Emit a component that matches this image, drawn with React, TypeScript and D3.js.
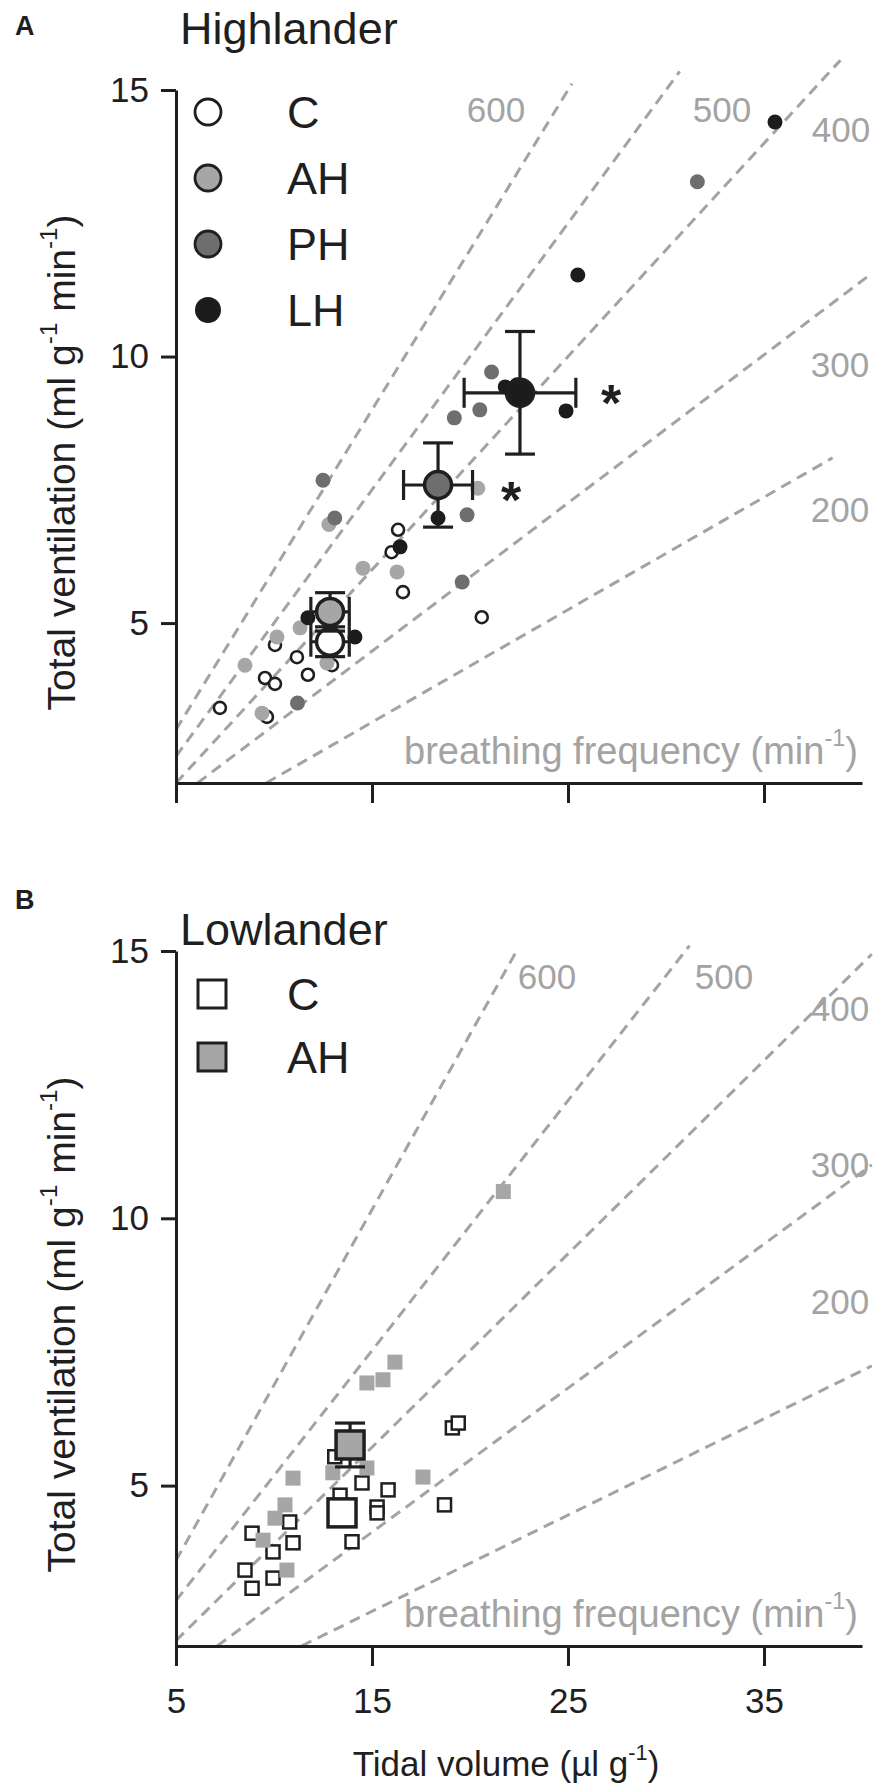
import React, { useEffect, useRef } from "react";
import * as d3 from "d3";

// ---- data: [tidal volume (ul/g), total ventilation (ml/g/min)] ----
const hlC = [[7.24, 3.41], [9.54, 3.97], [10.05, 3.86], [10.05, 4.59], [11.17, 4.36], [11.73, 4.03], [12.96, 4.21], [9.64, 3.24], [16.58, 5.58], [16.0, 6.33], [16.33, 6.75], [20.6, 5.11]];
const hlAH = [[8.52, 4.21], [10.15, 4.74], [11.33, 4.91], [9.39, 3.31], [12.7, 4.25], [14.54, 6.03], [16.28, 5.96], [12.8, 6.85], [20.4, 7.53]];
const hlPH = [[11.2, 3.5], [19.6, 5.77], [12.5, 7.68], [13.1, 6.97], [19.85, 7.03], [21.1, 9.71], [19.2, 8.85], [20.5, 9.0], [31.6, 13.28]];
const hlLH = [[11.73, 5.1], [14.13, 4.74], [16.43, 6.43], [18.37, 6.97], [21.8, 9.43], [22.4, 9.47], [22.9, 9.32], [25.5, 11.53], [35.56, 14.4], [24.9, 8.98]];
// group means: x, y, x error, y error
const hlMeans = [
  { g: "C", x: 12.86, y: 4.65, xe: 0.98, ye: 0.28 },
  { g: "AH", x: 12.86, y: 5.21, xe: 0.98, ye: 0.36 },
  { g: "PH", x: 18.37, y: 7.59, xe: 1.76, ye: 0.79 },
  { g: "LH", x: 22.55, y: 9.32, xe: 2.85, ye: 1.15 },
];

const llC = [[8.88, 3.08], [8.52, 3.42], [9.95, 3.27], [8.88, 4.11], [9.95, 3.76], [10.97, 3.93], [10.8, 4.32], [13.98, 3.95], [14.49, 5.05], [15.26, 4.6], [15.26, 4.49], [15.82, 4.92], [13.1, 5.54], [13.37, 4.82], [18.7, 4.64], [19.1, 6.08], [19.4, 6.17]];
const llAH = [[10.66, 3.42], [9.44, 3.98], [10.05, 4.39], [10.56, 4.64], [10.97, 5.14], [13.0, 5.24], [14.74, 5.33], [17.6, 5.16], [14.74, 6.92], [15.56, 6.98], [16.17, 7.31], [21.7, 10.5]];
const llMeans = [
  { g: "C", x: 13.47, y: 4.49, xe: 0, ye: 0 },
  { g: "AH", x: 13.88, y: 5.76, xe: 0, ye: 0.41 },
];

// breathing frequency isopleths: [x0, y0, x1, y1]
const isoFreq = ["600", "500", "400", "300", "200"];
const isoA = [[5, 3.0, 25.2, 15.12], [5, 2.5, 30.7, 15.35], [5, 2.0, 38.9, 15.56], [6.1, 2.0, 40.5, 11.56], [9.6, 2.0, 38.5, 8.1]];
const isoB = [[5, 3.6, 22.3, 14.95], [5, 2.85, 31.2, 15.1], [5, 2.1, 40.5, 14.94], [7.1, 2.0, 40.5, 11.0], [11.4, 2.0, 40.5, 7.24]];

const xTicks = [5, 15, 25, 35];
const yTicks = [5, 10, 15];

const W = 887;
const H = 1792;
const FONT = "'Liberation Sans', Arial, Helvetica, sans-serif";
const GRID = "#a3a3a3";
const INK = "#1f1f1f";
const COL: Record<string, string> = { C: "#ffffff", AH: "#a6a6a6", PH: "#6e6e6e", LH: "#1c1c1c" };

export default function App() {
  const svgRef = useRef<SVGSVGElement>(null);

  useEffect(() => {
    if (!svgRef.current) return;
    const svg = d3.select(svgRef.current);
    svg.selectAll("*").remove();

    const x = d3.scaleLinear().domain([5, 40]).range([176, 862]);

    function supText(t: d3.Selection<SVGTextElement, unknown, null, undefined>, parts: [string, boolean][]) {
      parts.forEach(([s, sup], i) => {
        const prevSup = i > 0 && parts[i - 1][1];
        t.append("tspan")
          .attr("font-size", sup ? "0.62em" : null)
          .attr("dy", sup ? "-0.75em" : prevSup ? "0.46em" : null)
          .text(s);
      });
    }

    function panel(opts: {
      top: number; bottom: number; letter: string; letterY: number; title: string; titleY: number;
      legendY: number; iso: number[][]; isoLabels: [number, number][]; square: boolean;
      groups: { g: string; pts: number[][] }[]; means: typeof hlMeans;
      tickLabels: boolean; stars: [number, number][];
    }) {
      const y = d3.scaleLinear().domain([2, 15]).range([opts.bottom, opts.top]);
      const g = svg.append("g");

      // isopleths
      const line = d3.line<number[]>().x(d => x(d[0])).y(d => y(d[1]));
      opts.iso.forEach(s => {
        g.append("path")
          .attr("d", line([[s[0], s[1]], [s[2], s[3]]]))
          .attr("fill", "none")
          .attr("stroke", GRID)
          .attr("stroke-width", 3)
          .attr("stroke-dasharray", "11,7");
      });
      opts.isoLabels.forEach((p, i) => {
        g.append("text")
          .attr("x", p[0]).attr("y", p[1])
          .attr("text-anchor", "middle")
          .attr("font-family", FONT).attr("font-size", 35)
          .attr("fill", GRID)
          .text(isoFreq[i]);
      });
      const bf = g.append("text")
        .attr("x", 858).attr("y", opts.bottom - 19)
        .attr("text-anchor", "end")
        .attr("font-family", FONT).attr("font-size", 38)
        .attr("fill", GRID);
      supText(bf, [["breathing frequency (min", false], ["-1", true], [")", false]]);

      // individual points
      opts.groups.forEach(grp => {
        const open = grp.g === "C";
        grp.pts.forEach(p => {
          if (opts.square) {
            const s = open ? 13 : 15;
            g.append("rect")
              .attr("x", x(p[0]) - s / 2).attr("y", y(p[1]) - s / 2)
              .attr("width", s).attr("height", s)
              .attr("fill", open ? "#fff" : COL.AH)
              .attr("stroke", open ? INK : "none")
              .attr("stroke-width", open ? 2.5 : 0);
          } else {
            g.append("circle")
              .attr("cx", x(p[0])).attr("cy", y(p[1]))
              .attr("r", open ? 6 : 7.5)
              .attr("fill", COL[grp.g])
              .attr("stroke", open ? INK : "none")
              .attr("stroke-width", open ? 2.6 : 0);
          }
        });
      });

      // means with error bars
      opts.means.forEach(m => {
        const cx = x(m.x), cy = y(m.y), cap = 15;
        const eb = g.append("g").attr("stroke", INK).attr("stroke-width", 3.2);
        if (m.ye > 0) {
          eb.append("line").attr("x1", cx).attr("x2", cx).attr("y1", y(m.y - m.ye)).attr("y2", y(m.y + m.ye));
          [m.y - m.ye, m.y + m.ye].forEach(v =>
            eb.append("line").attr("x1", cx - cap).attr("x2", cx + cap).attr("y1", y(v)).attr("y2", y(v)));
        }
        if (m.xe > 0) {
          eb.append("line").attr("y1", cy).attr("y2", cy).attr("x1", x(m.x - m.xe)).attr("x2", x(m.x + m.xe));
          [m.x - m.xe, m.x + m.xe].forEach(v =>
            eb.append("line").attr("y1", cy - cap).attr("y2", cy + cap).attr("x1", x(v)).attr("x2", x(v)));
        }
        if (opts.square) {
          const s = 28;
          g.append("rect").attr("x", cx - s / 2).attr("y", cy - s / 2).attr("width", s).attr("height", s)
            .attr("fill", COL[m.g]).attr("stroke", INK).attr("stroke-width", 3.5);
        } else {
          g.append("circle").attr("cx", cx).attr("cy", cy).attr("r", 13.5)
            .attr("fill", COL[m.g]).attr("stroke", INK).attr("stroke-width", 3.5);
        }
      });

      opts.stars.forEach(s => {
        g.append("text").attr("x", s[0]).attr("y", s[1])
          .attr("text-anchor", "middle")
          .attr("font-family", FONT).attr("font-size", 52).attr("font-weight", "bold")
          .attr("fill", INK).text("*");
      });

      // axes
      const yAxis = g.append("g").attr("transform", `translate(${x(5)},0)`)
        .call(d3.axisLeft(y).tickValues(yTicks).tickSize(15).tickSizeOuter(0).tickPadding(12).tickFormat(d3.format("d")));
      const xAxis = g.append("g").attr("transform", `translate(0,${opts.bottom})`)
        .call(d3.axisBottom(x).tickValues(xTicks).tickSize(20).tickSizeOuter(0).tickPadding(22)
          .tickFormat(opts.tickLabels ? d3.format("d") : () => ""));
      [yAxis, xAxis].forEach(a => {
        a.selectAll("path,line").attr("stroke", INK).attr("stroke-width", 3);
        a.selectAll("text").attr("fill", INK).attr("font-family", FONT).attr("font-size", 35);
      });

      const yt = g.append("text")
        .attr("transform", `translate(75,${(opts.top + opts.bottom) / 2 + 26}) rotate(-90)`)
        .attr("text-anchor", "middle")
        .attr("font-family", FONT).attr("font-size", 39).attr("fill", INK);
      supText(yt, [["Total ventilation (ml g", false], ["-1", true], [" min", false], ["-1", true], [")", false]]);

      // panel letter, title and legend
      g.append("text").attr("x", 15).attr("y", opts.letterY)
        .attr("font-family", FONT).attr("font-size", 27).attr("font-weight", "bold").attr("fill", INK)
        .text(opts.letter);
      g.append("text").attr("x", 180).attr("y", opts.titleY)
        .attr("font-family", FONT).attr("font-size", 45).attr("fill", INK)
        .text(opts.title);
      const legend = opts.groups.map(d => d.g);
      legend.forEach((name, i) => {
        const ly = opts.legendY + i * (opts.square ? 63 : 66);
        if (opts.square) {
          g.append("rect").attr("x", 198).attr("y", ly - 14).attr("width", 28).attr("height", 28)
            .attr("fill", COL[name]).attr("stroke", INK).attr("stroke-width", 3);
        } else {
          g.append("circle").attr("cx", 208).attr("cy", ly).attr("r", 13)
            .attr("fill", COL[name]).attr("stroke", INK).attr("stroke-width", name === "LH" ? 0 : 2.8);
        }
        g.append("text").attr("x", 287).attr("y", ly).attr("dy", "0.36em")
          .attr("font-family", FONT).attr("font-size", 45).attr("fill", INK)
          .text(name);
      });
      return g;
    }

    panel({
      top: 90, bottom: 783, letter: "A", letterY: 35, title: "Highlander", titleY: 44, legendY: 112,
      iso: isoA, isoLabels: [[496, 122], [722, 122], [841, 142], [840, 377], [840, 522]],
      square: false,
      groups: [{ g: "C", pts: hlC }, { g: "AH", pts: hlAH }, { g: "PH", pts: hlPH }, { g: "LH", pts: hlLH }],
      means: hlMeans, tickLabels: false, stars: [[611, 421], [511, 518]],
    });
    panel({
      top: 951, bottom: 1646, letter: "B", letterY: 909, title: "Lowlander", titleY: 945, legendY: 994,
      iso: isoB, isoLabels: [[547, 989], [724, 989], [840, 1021], [840, 1177], [840, 1314]],
      square: true,
      groups: [{ g: "C", pts: llC }, { g: "AH", pts: llAH }],
      means: llMeans, tickLabels: true, stars: [],
    });

    const xt = svg.append("text").attr("x", 506).attr("y", 1776)
      .attr("text-anchor", "middle")
      .attr("font-family", FONT).attr("font-size", 35).attr("fill", INK);
    supText(xt, [["Tidal volume (\u00b5l g", false], ["-1", true], [")", false]]);
  }, []);

  return (
    <svg
      ref={svgRef}
      width={W}
      height={H}
      style={{ position: "absolute", left: 0, top: 0, background: "#fff" }}
    />
  );
}
